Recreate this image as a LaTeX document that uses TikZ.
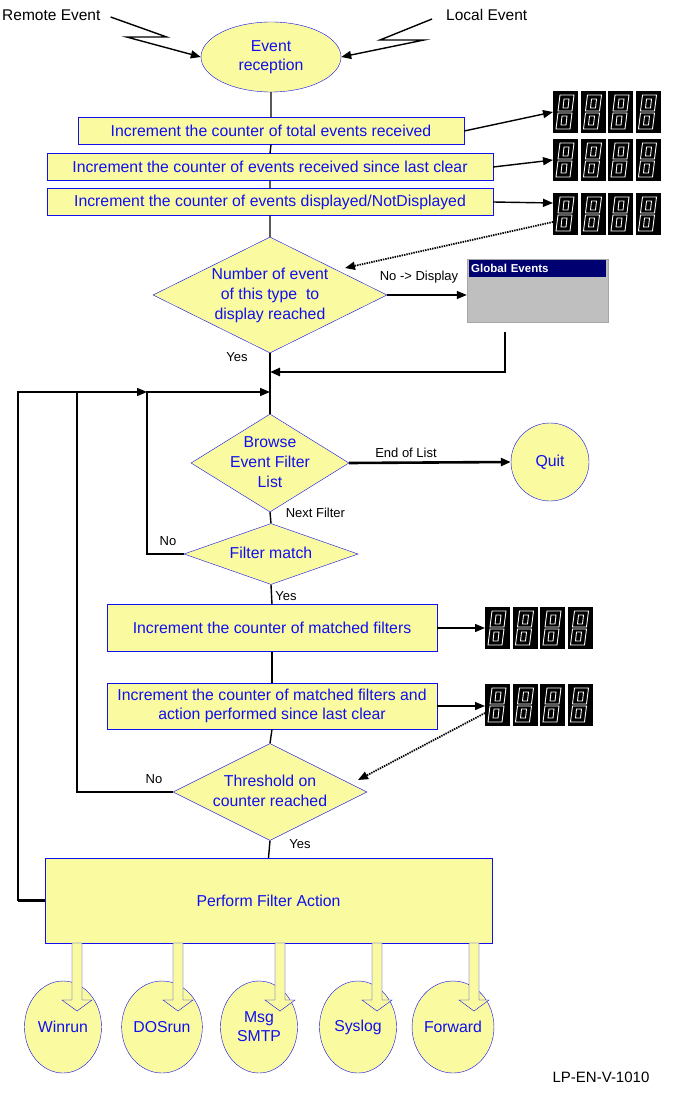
\documentclass[tikz,border=0pt]{standalone}
\usepackage{fontspec}
\setmainfont{Liberation Sans}
\usetikzlibrary{shapes.geometric,arrows.meta}
\definecolor{fy}{HTML}{FAFAA0}
\definecolor{tb}{HTML}{1010F0}
\definecolor{navy}{HTML}{000070}
\newcommand\dtext[1]{\makebox[0pt]{\smash{\raisebox{-4pt}{\begin{tabular}{@{}c@{}}#1\end{tabular}}}}}
\begin{document}
\begin{tikzpicture}[x=1pt,y=-1pt,
  box/.style={draw=tb,fill=fy,text=tb,font=\fontsize{15.8}{19}\selectfont,inner sep=0,align=center},
  dia/.style={draw=tb,fill=fy,text=tb,font=\fontsize{15.8}{20}\selectfont,diamond,inner sep=0},
  lbl/.style={font=\fontsize{13}{15}\selectfont,text=black,inner sep=1pt},
  ln/.style={draw=black,line width=1.4pt},
  tln/.style={draw=black,line width=2.6pt},
  arr/.style={-{Triangle[length=10pt,width=8pt]}},
  digit/.pic={\fill[black] (0,0) rectangle (25,42);
    \draw[white,line width=0.9pt] (7,4)--(21,4)--(19,20)--(5,20)--cycle (5,22)--(19,22)--(17,38)--(3,38)--cycle;
    \draw[white,line width=0.9pt] (11,8)--(16,8)--(15,17)--(10,17)--cycle (9,25)--(14,25)--(13,34)--(8,34)--cycle;},
  disp/.pic={\foreach \i in {0,1,2,3} \pic at (\i*27.5,0) {digit};}
]
\useasboundingbox (0,0) rectangle (700,1094);
% top texts
\node[font=\fontsize{15.5}{17}\selectfont,anchor=west,inner sep=0] (re) at (2,15) {Remote Event};
\node[font=\fontsize{15.5}{17}\selectfont,anchor=west,inner sep=0] (le) at (446,15) {Local Event};
\node[box,ellipse,minimum width=140,minimum height=70] (er) at (271,57) {Event\\reception};
\draw[ln,arr] (re.east)++(10,2) -- ++(56,20) -- ++(-40,0) -- (er.west);
\draw[ln,arr] (le.west)++(-14,4) -- ++(-52,21) -- ++(44,0) -- (er.east);
% boxes
\node[box,minimum width=386,minimum height=27] (b1) at (271,131) {Increment the counter of total events received};
\node[box,minimum width=446,minimum height=27] (b2) at (270,167) {Increment the counter of events received since last clear};
\node[box,minimum width=446,minimum height=27] (b3) at (270,202) {Increment the counter of events displayed/NotDisplayed};
\node[dia,minimum width=234,minimum height=116] (d1) at (270,295) {\dtext{Number of event\\ of this type\ \ to\\ display reached}};
\draw[ln] (er.south) -- (b1.north) (b1.south) -- (b2.north) (b2.south) -- (b3.north) (b3.south) -- (d1.north);
% displays
\pic at (553,91) {disp};
\pic at (553,139) {disp};
\pic at (553,193) {disp};
\coordinate (D1) at (553,112); \coordinate (D2) at (553,160); \coordinate (D3) at (553,203); \coordinate (D3b) at (553,222);
\draw[ln,arr] (b1.east) -- (D1);
\draw[ln,arr] (b2.east) -- (D2);
\draw[ln,arr] (b3.east) -- (D3);
\draw[ln,arr,densely dotted,line width=1.8pt] (D3b) -- (345,268);
% window
\node[draw=gray!70,fill=gray!50,minimum width=141,minimum height=63,inner sep=0] (win) at (537.5,290.5) {};
\node[fill=navy,text=white,font=\bfseries\fontsize{11.5}{12}\selectfont,minimum height=17,inner sep=2pt,anchor=north west,text width=133] (wt) at (469,260) {Global Events};
\draw[ln,arr] (d1.east) -- (d1.east -| win.west) node[lbl,pos=0.4,above=10pt] {No -> Display};
\node[lbl] at (237,357) {Yes};
\coordinate (w1) at (505,332);
\coordinate (j1) at (270,372);
\draw[tln,arr] (w1) |- (j1);
% browse
\node[dia,minimum width=158,minimum height=98] (d2) at (270,463) {\dtext{Browse\\Event Filter\\List}};
\coordinate (j2) at (270,392);
\draw[ln] (d1.south) -- (d2.north);
\node[box,circle,minimum size=78] (quit) at (550,462) {Quit};
\draw[tln,arr] (d2.east) -- (quit.west) node[lbl,midway,above=3pt,xshift=-24] {End of List};
\node[dia,minimum width=174,minimum height=61] (d3) at (271,554) {\dtext{Filter match}};
\draw[ln] (d2.south) -- (d3.north) node[lbl,pos=0.1,right=14pt] {Next Filter};
\node[lbl] at (168,541) {No};
\draw[ln,arr] (d3.west) -| (147,392) -- (j2);
\node[box,minimum width=330,minimum height=47] (b4) at (272,628) {Increment the counter of matched filters};
\draw[ln] (d3.south) -- (b4.north) node[lbl,pos=0.6,right=2pt] {Yes};
\pic at (485,607) {disp};
\coordinate (D4) at (485,628);
\draw[ln,arr] (b4.east) -- (D4);
\node[box,minimum width=330,minimum height=46] (b5) at (272,706) {Increment the counter of matched filters and\\action performed since last clear};
\draw[ln] (b4.south) -- (b5.north);
\pic at (485,684) {disp};
\coordinate (D5) at (485,706); \coordinate (D5b) at (485,713);
\draw[ln,arr] (b5.east) -- (D5);
\node[dia,minimum width=194,minimum height=97] (d4) at (270,792) {\dtext{Threshold on\\counter reached}};
\draw[ln] (b5.south) -- (d4.north);
\draw[ln,arr,densely dotted,line width=1.8pt] (D5b) -- (358,780);
\node[lbl] at (154,779) {No};
\draw[ln,arr] (d4.west) -| (77,392) -- (147,392);
\node[box,minimum width=447,minimum height=85] (b6) at (268.5,900.5) {Perform Filter Action};
\draw[ln] (d4.south) -- (b6.north) node[lbl,pos=0.2,right=18pt] {Yes};
\draw[tln] (b6.west) -- (18,900.5);
\draw[ln] (18,901) -- (18,392) -- (77,392);
% outputs
\foreach \n/\x/\ax/\t in {w/63/77/Winrun,d/162/178/DOSrun,m/259/280/{Msg\\SMTP},s/358/377/Syslog,f/453/474/Forward}{
  \node[box,ellipse,minimum width=77,minimum height=92,inner sep=0] (o\n) at (\x,1027) {\t};
  \draw[tb,fill=fy] (\ax-5,943) -- (\ax-5,1000) -- (\ax-15,1000) -- (\ax,1011) -- (\ax+15,1000) -- (\ax+5,1000) -- (\ax+5,943) -- cycle;
}
\node[font=\fontsize{15}{17}\selectfont] (id) at (601,1077) {LP-EN-V-1010};
\end{tikzpicture}
\end{document}
